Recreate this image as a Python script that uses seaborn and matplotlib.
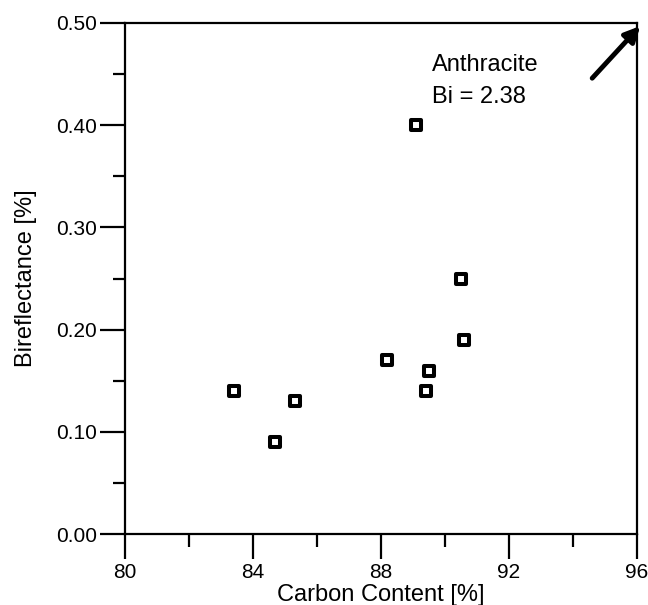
import matplotlib
matplotlib.use("Agg")
import matplotlib.pyplot as plt
from matplotlib.ticker import MultipleLocator, FormatStrFormatter
import seaborn as sns
import pandas as pd

carbon = [89.1, 90.5, 90.6, 88.2, 89.5, 89.4, 83.4, 85.3, 84.7]
bireflectance = [0.40, 0.25, 0.19, 0.17, 0.16, 0.14, 0.14, 0.13, 0.09]
x_ticks = [80, 84, 88, 92, 96]
y_ticks = [0.0, 0.1, 0.2, 0.3, 0.4, 0.5]

sns.set_style("ticks")
plt.rcParams['font.family'] = ['Liberation Sans', 'DejaVu Sans']
plt.rcParams.update({"text.color": "black", "axes.labelcolor": "black",
                     "xtick.color": "black", "ytick.color": "black",
                     "axes.edgecolor": "black"})

df = pd.DataFrame({"Carbon": carbon, "Bi": bireflectance})

fig = plt.figure(figsize=(6.48, 6.05), dpi=100)
ax = fig.add_axes([0.193, 0.117, 0.790, 0.845])

sns.scatterplot(data=df, x="Carbon", y="Bi", ax=ax, marker="s", s=42,
                facecolor="white", edgecolor="black", linewidth=2.9, zorder=3)

ax.set_xlim(80, 96)
ax.set_ylim(0, 0.5)
ax.set_xticks(x_ticks)
ax.set_yticks(y_ticks)
ax.xaxis.set_minor_locator(MultipleLocator(2))
ax.yaxis.set_minor_locator(MultipleLocator(0.05))
ax.yaxis.set_major_formatter(FormatStrFormatter("%.2f"))

for s in ax.spines.values():
    s.set_linewidth(1.6)
    s.set_color("black")

ax.tick_params(axis="both", which="major", direction="out", length=18, width=1.6,
               labelsize=15, pad=2, color="black", labelcolor="black")
ax.tick_params(axis="x", which="major", pad=3)
ax.tick_params(axis="both", which="minor", direction="out", length=9, width=1.6,
               color="black")
ax.tick_params(top=False, right=False, which="both")

ax.set_xlabel("Carbon Content [%]", fontsize=17, labelpad=1)
ax.set_ylabel("Bireflectance [%]", fontsize=17, labelpad=14)

ax.text(89.6, 0.459, "Anthracite", fontsize=17, va="center", ha="left")
ax.text(89.6, 0.4275, "Bi = 2.38", fontsize=17, va="center", ha="left")
ax.annotate("", xy=(96.1, 0.497), xytext=(94.6, 0.446),
            arrowprops=dict(arrowstyle="-|>,head_length=0.9,head_width=0.45",
                            color="black", lw=3.5, shrinkA=0, shrinkB=0),
            annotation_clip=False)

fig.savefig("out.png", dpi=100)
